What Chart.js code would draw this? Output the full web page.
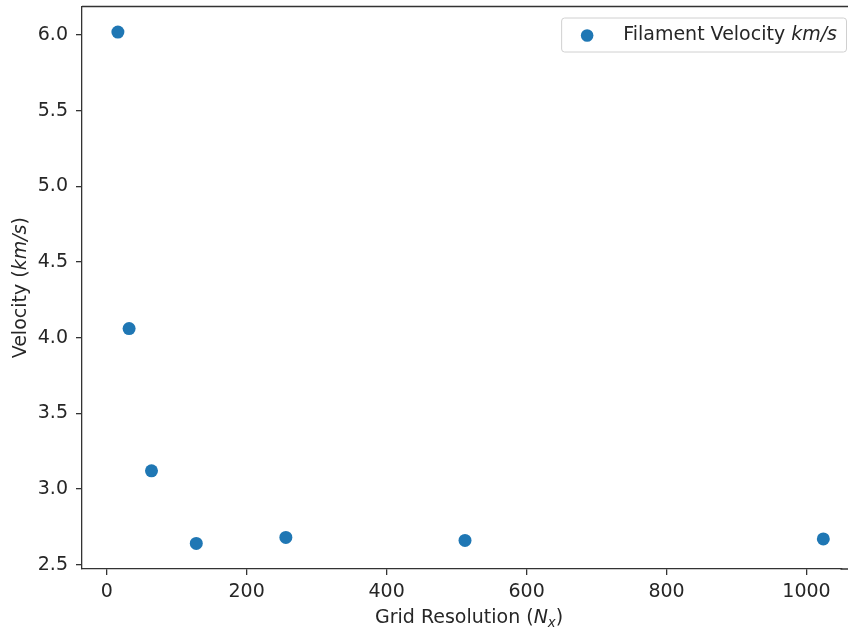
<!DOCTYPE html>
<html>
<head>
<meta charset="utf-8">
<script src="https://cdn.jsdelivr.net/npm/chart.js@4.4.0/dist/chart.umd.min.js"></script>
<style>
  html, body { margin: 0; padding: 0; background: #fff; overflow: hidden; }
  #wrap { width: 848px; height: 630px; }
</style>
</head>
<body>
<div id="wrap"><canvas id="Grafica" width="848" height="630"></canvas></div>
<script>
const gridRes = [16, 32, 64, 128, 256, 512, 1024];
const velocity = [6.02, 4.06, 3.12, 2.64, 2.68, 2.66, 2.67];
const xTicks = [0, 200, 400, 600, 800, 1000];
const yTicks = [2.5, 3.0, 3.5, 4.0, 4.5, 5.0, 5.5, 6.0];

const FONT = '"DejaVu Sans", sans-serif';
const SIZE = 19;
const INK = '#262626';
const BLUE = '#1f77b4';
const PX_PER_X = 0.699;   // keeps the x scale of the original, which is cut off at the right

// text made of runs with different styles (italic, subscript)
function runWidth (ctx, runs, size) {
  let w = 0;
  runs.forEach(r => {
    ctx.font = (r.it ? 'italic ' : '') + (r.sub ? size * 0.7 : size) + 'px ' + FONT;
    w += ctx.measureText(r.t).width;
  });
  return w;
}

function drawRuns (ctx, runs, x, y, size) {
  ctx.textBaseline = 'alphabetic';
  ctx.textAlign = 'left';
  runs.forEach(r => {
    ctx.font = (r.it ? 'italic ' : '') + (r.sub ? size * 0.7 : size) + 'px ' + FONT;
    ctx.fillText(r.t, x, y + (r.sub ? size * 0.22 : 0));
    x += ctx.measureText(r.t).width;
  });
}

const xTitle = [{t: 'Grid Resolution ('}, {t: 'N', it: true}, {t: 'x', it: true, sub: true}, {t: ')'}];
const yTitle = [{t: 'Velocity ('}, {t: 'km/s', it: true}, {t: ')'}];
const legendText = [{t: 'Filament Velocity '}, {t: 'km/s', it: true}];

const decor = {
  id: 'decor',
  afterDraw (chart) {
    const ctx = chart.ctx;
    const a = chart.chartArea;
    ctx.save();
    // top spine, and the bottom one carried on to the cut edge
    ctx.strokeStyle = '#333';
    ctx.lineWidth = 1.3;
    ctx.beginPath();
    ctx.moveTo(a.left, a.top);
    ctx.lineTo(chart.width, a.top);
    ctx.moveTo(a.right - 1, a.bottom);
    ctx.lineTo(chart.width, a.bottom);
    ctx.stroke();

    ctx.fillStyle = INK;
    drawRuns(ctx, xTitle, 375, 623, SIZE);
    let w = runWidth(ctx, yTitle, SIZE);
    ctx.translate(25.5, (a.top + a.bottom) / 2);
    ctx.rotate(-Math.PI / 2);
    drawRuns(ctx, yTitle, -w / 2, 0, SIZE);
    ctx.restore();

    // legend
    ctx.save();
    w = runWidth(ctx, legendText, SIZE);
    const bw = 62 + w + 9, bh = 34;
    const bx = 846 - bw, by = a.top + 11;
    ctx.fillStyle = 'rgba(255,255,255,0.8)';
    ctx.strokeStyle = '#d0d0d0';
    ctx.lineWidth = 1;
    ctx.beginPath();
    ctx.roundRect(bx + 0.5, by + 0.5, bw, bh, 3);
    ctx.fill();
    ctx.stroke();
    ctx.fillStyle = BLUE;
    ctx.beginPath();
    ctx.arc(bx + 26, by + 18, 6.3, 0, Math.PI * 2);
    ctx.fill();
    ctx.fillStyle = INK;
    drawRuns(ctx, legendText, bx + 62, by + 22, SIZE);
    ctx.restore();
  }
};

const data = {
  datasets: [
    {
      label: 'Filament Velocity km/s',
      data: gridRes.map((x, i) => ({x: x, y: velocity[i]})),
      backgroundColor: BLUE,
      borderWidth: 0,
      pointRadius: 6.5,
    }
  ]
};

const config = {
  type: 'scatter',
  data: data,
  options: {
    responsive: false,
    animation: false,
    layout: {
      padding: {top: 4, right: 0, left: 0, bottom: 0}
    },
    plugins: {
      legend: { display: false },
      tooltip: { enabled: false }
    },
    scales: {
      x: {
        type: 'linear',
        min: -35.3,
        max: 1050,
        afterBuildTicks: s => { s.ticks = xTicks.map(v => ({value: v})); },
        afterFit: s => { s.height = 61; s.paddingLeft = 0; s.paddingRight = 0; },
        afterDataLimits: s => {
          // match the visible width to the original pixel scale
          const w = s.chart.chartArea && s.chart.chartArea.right ? s.chart.chartArea.right - s.chart.chartArea.left : 0;
          if (w > 0) s.max = s.min + w / PX_PER_X;
        },
        grid: { drawOnChartArea: false, drawTicks: true, tickLength: 6, color: '#333', lineWidth: 1.3 },
        border: { display: true, color: '#333', width: 1.3 },
        ticks: { color: INK, font: { family: FONT, size: SIZE }, padding: 6, maxRotation: 0, callback: v => String(v) }
      },
      y: {
        type: 'linear',
        min: 2.471,
        max: 6.189,
        afterBuildTicks: s => { s.ticks = yTicks.map(v => ({value: v})); },
        afterFit: s => { s.width = 82; s.paddingTop = 0; s.paddingBottom = 0; },
        grid: { drawOnChartArea: false, drawTicks: true, tickLength: 6, color: '#333', lineWidth: 1.3 },
        border: { display: true, color: '#333', width: 1.3 },
        ticks: { color: INK, font: { family: FONT, size: SIZE }, padding: 8, callback: v => v.toFixed(1) }
      }
    }
  },
  plugins: [decor]
};

const chart = new Chart(document.getElementById('Grafica'), config);
</script>
</body>
</html>
